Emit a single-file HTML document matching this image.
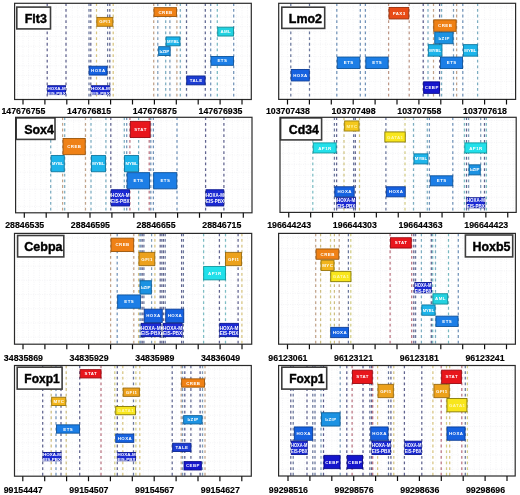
<!DOCTYPE html>
<html><head><meta charset="utf-8"><title>TF binding sites</title>
<style>
html,body{margin:0;padding:0;background:#fff;}
body{width:520px;height:495px;overflow:hidden;}
svg{display:block;}
svg text{font-family:"Liberation Sans", sans-serif;font-weight:bold;}
</style></head>
<body>
<svg width="520" height="495" viewBox="0 0 520 495">
<defs><filter id="soft" x="0" y="0" width="1" height="1"><feGaussianBlur stdDeviation="0.35"/></filter></defs>
<rect width="520" height="495" fill="#fff"/>
<g filter="url(#soft)">
<rect width="520" height="495" fill="#fff"/>
<path d="M17.52 3.3V99.5M23 3.3V99.5M28.48 3.3V99.5M33.95 3.3V99.5M39.43 3.3V99.5M44.9 3.3V99.5M50.38 3.3V99.5M55.85 3.3V99.5M61.33 3.3V99.5M66.8 3.3V99.5M72.28 3.3V99.5M77.75 3.3V99.5M83.22 3.3V99.5M88.7 3.3V99.5M94.17 3.3V99.5M99.65 3.3V99.5M105.12 3.3V99.5M110.6 3.3V99.5M116.07 3.3V99.5M121.55 3.3V99.5M127.02 3.3V99.5M132.5 3.3V99.5M137.97 3.3V99.5M143.45 3.3V99.5M148.92 3.3V99.5M154.4 3.3V99.5M159.87 3.3V99.5M165.35 3.3V99.5M170.82 3.3V99.5M176.3 3.3V99.5M181.77 3.3V99.5M187.25 3.3V99.5M192.72 3.3V99.5M198.2 3.3V99.5M203.67 3.3V99.5M209.15 3.3V99.5M214.62 3.3V99.5M220.1 3.3V99.5M225.57 3.3V99.5M231.05 3.3V99.5M236.52 3.3V99.5M242 3.3V99.5M247.47 3.3V99.5M14.6 7.2H251.3M14.6 16.96H251.3M14.6 26.72H251.3M14.6 36.48H251.3M14.6 46.24H251.3M14.6 56H251.3M14.6 65.76H251.3M14.6 75.52H251.3M14.6 85.28H251.3M14.6 95.04H251.3" stroke="#efeff2" stroke-width="0.7" stroke-dasharray="1 1.3" fill="none"/>
<line x1="47.2" y1="3.3" x2="47.2" y2="99.5" stroke="#60638f" stroke-width="1.25" stroke-dasharray="2.8 2.85"/>
<line x1="66" y1="3.3" x2="66" y2="99.5" stroke="#60638f" stroke-width="1.25" stroke-dasharray="2.8 2.85"/>
<line x1="89" y1="3.3" x2="89" y2="99.5" stroke="#6a779c" stroke-width="1.25" stroke-dasharray="2.8 2.85"/>
<line x1="90.8" y1="3.3" x2="90.8" y2="99.5" stroke="#60638f" stroke-width="1.25" stroke-dasharray="2.8 2.85"/>
<line x1="96.5" y1="3.3" x2="96.5" y2="99.5" stroke="#d7c481" stroke-width="1.25" stroke-dasharray="2.8 2.85"/>
<line x1="107.6" y1="3.3" x2="107.6" y2="99.5" stroke="#6a779c" stroke-width="1.25" stroke-dasharray="2.8 2.85"/>
<line x1="109.8" y1="3.3" x2="109.8" y2="99.5" stroke="#60638f" stroke-width="1.25" stroke-dasharray="2.8 2.85"/>
<line x1="113.2" y1="3.3" x2="113.2" y2="99.5" stroke="#d7c481" stroke-width="1.25" stroke-dasharray="2.8 2.85"/>
<line x1="153.7" y1="3.3" x2="153.7" y2="99.5" stroke="#c1a38a" stroke-width="1.25" stroke-dasharray="2.8 2.85"/>
<line x1="157.8" y1="3.3" x2="157.8" y2="99.5" stroke="#7e9cb9" stroke-width="1.25" stroke-dasharray="2.8 2.85"/>
<line x1="165.7" y1="3.3" x2="165.7" y2="99.5" stroke="#7cadc1" stroke-width="1.25" stroke-dasharray="2.8 2.85"/>
<line x1="169.9" y1="3.3" x2="169.9" y2="99.5" stroke="#7e9cb9" stroke-width="1.25" stroke-dasharray="2.8 2.85"/>
<line x1="176.9" y1="3.3" x2="176.9" y2="99.5" stroke="#c1a38a" stroke-width="1.25" stroke-dasharray="2.8 2.85"/>
<line x1="180.3" y1="3.3" x2="180.3" y2="99.5" stroke="#7cadc1" stroke-width="1.25" stroke-dasharray="2.8 2.85"/>
<line x1="186.5" y1="3.3" x2="186.5" y2="99.5" stroke="#606791" stroke-width="1.25" stroke-dasharray="2.8 2.85"/>
<line x1="205.3" y1="3.3" x2="205.3" y2="99.5" stroke="#606791" stroke-width="1.25" stroke-dasharray="2.8 2.85"/>
<line x1="210.7" y1="3.3" x2="210.7" y2="99.5" stroke="#7293b9" stroke-width="1.25" stroke-dasharray="2.8 2.85"/>
<line x1="217.3" y1="3.3" x2="217.3" y2="99.5" stroke="#78b8c1" stroke-width="1.25" stroke-dasharray="2.8 2.85"/>
<line x1="233.7" y1="3.3" x2="233.7" y2="99.5" stroke="#7293b9" stroke-width="1.25" stroke-dasharray="2.8 2.85"/>
<rect x="154.05" y="7.65" width="22.5" height="8.86" fill="#ef8115" stroke="#9c560c" stroke-width="0.9"/>
<text x="165.53" y="13.66" font-size="4.4" fill="#ffffff" text-anchor="middle" letter-spacing="0.45">CREB</text>
<rect x="96.85" y="17.41" width="16" height="8.86" fill="#eca11d" stroke="#9a6a10" stroke-width="0.9"/>
<text x="105.07" y="23.42" font-size="4.4" fill="#ffffff" text-anchor="middle" letter-spacing="0.45">GFI1</text>
<rect x="217.75" y="27.17" width="15.7" height="8.86" fill="#24d2e0" stroke="#128e98" stroke-width="0.9"/>
<text x="225.83" y="33.18" font-size="4.4" fill="#ffffff" text-anchor="middle" letter-spacing="0.45">AML</text>
<rect x="166.15" y="36.93" width="13.8" height="8.86" fill="#1db4ea" stroke="#0f78a0" stroke-width="0.9"/>
<text x="173.05" y="42.94" font-size="4.4" fill="#ffffff" text-anchor="middle" textLength="12.1" lengthAdjust="spacingAndGlyphs">MYBL</text>
<rect x="158.65" y="46.69" width="11.5" height="8.86" fill="#1c92e2" stroke="#0f609a" stroke-width="0.9"/>
<text x="164.4" y="52.7" font-size="4.4" fill="#ffffff" text-anchor="middle" textLength="9.8" lengthAdjust="spacingAndGlyphs">bZIP</text>
<rect x="210.95" y="56.45" width="22.5" height="8.86" fill="#1a7ee6" stroke="#0f549c" stroke-width="0.9"/>
<text x="222.42" y="62.46" font-size="4.4" fill="#ffffff" text-anchor="middle" letter-spacing="0.45">ETS</text>
<rect x="89.15" y="66.21" width="17.9" height="8.86" fill="#1662e0" stroke="#0c3e98" stroke-width="0.9"/>
<text x="98.32" y="72.22" font-size="4.4" fill="#ffffff" text-anchor="middle" letter-spacing="0.45">HOXA</text>
<rect x="186.75" y="75.97" width="18.3" height="8.86" fill="#1a3cd2" stroke="#0c2690" stroke-width="0.9"/>
<text x="196.12" y="81.98" font-size="4.4" fill="#ffffff" text-anchor="middle" letter-spacing="0.45">TALE</text>
<rect x="47.65" y="85.73" width="17.9" height="8.86" fill="#1a2ad2" stroke="#0c1890" stroke-width="0.9"/>
<text x="56.6" y="89.76" font-size="4.24" fill="#ffffff" text-anchor="middle" textLength="18.2" lengthAdjust="spacingAndGlyphs">HOXA-M</text>
<text x="56.6" y="94.91" font-size="4.24" fill="#ffffff" text-anchor="middle" textLength="18.2" lengthAdjust="spacingAndGlyphs">EIS-PBX</text>
<rect x="91.25" y="85.73" width="18.5" height="8.86" fill="#1a2ad2" stroke="#0c1890" stroke-width="0.9"/>
<text x="100.5" y="89.76" font-size="4.24" fill="#ffffff" text-anchor="middle" textLength="18.8" lengthAdjust="spacingAndGlyphs">HOXA-M</text>
<text x="100.5" y="94.91" font-size="4.24" fill="#ffffff" text-anchor="middle" textLength="18.8" lengthAdjust="spacingAndGlyphs">EIS-PBX</text>
<rect x="16.8" y="7.1" width="33.7" height="21.8" fill="#fff" stroke="#3c3c3c" stroke-width="1.6"/>
<text x="46.8" y="22.8" font-size="12.4" fill="#000" stroke="#000" stroke-width="0.4" text-anchor="end">Flt3</text>
<rect x="14.6" y="3.3" width="236.7" height="96.2" fill="none" stroke="#2b2b2b" stroke-width="1.2"/>
<path d="M23 99.5V104.5M44.9 99.5V104.5M66.8 99.5V104.5M88.7 99.5V104.5M110.6 99.5V104.5M132.5 99.5V104.5M154.4 99.5V104.5M176.3 99.5V104.5M198.2 99.5V104.5M220.1 99.5V104.5M242 99.5V104.5" stroke="#111" stroke-width="1.2"/>
<text transform="translate(23.4 114.2) scale(1 0.96)" font-size="8.8" fill="#000" stroke="#000" stroke-width="0.15" text-anchor="middle">147676755</text>
<text transform="translate(89.1 114.2) scale(1 0.96)" font-size="8.8" fill="#000" stroke="#000" stroke-width="0.15" text-anchor="middle">147676815</text>
<text transform="translate(154.8 114.2) scale(1 0.96)" font-size="8.8" fill="#000" stroke="#000" stroke-width="0.15" text-anchor="middle">147676875</text>
<text transform="translate(220.5 114.2) scale(1 0.96)" font-size="8.8" fill="#000" stroke="#000" stroke-width="0.15" text-anchor="middle">147676935</text>
<path d="M282.03 3.3V99.4M287.5 3.3V99.4M292.98 3.3V99.4M298.45 3.3V99.4M303.93 3.3V99.4M309.4 3.3V99.4M314.88 3.3V99.4M320.35 3.3V99.4M325.83 3.3V99.4M331.3 3.3V99.4M336.78 3.3V99.4M342.25 3.3V99.4M347.73 3.3V99.4M353.2 3.3V99.4M358.68 3.3V99.4M364.15 3.3V99.4M369.63 3.3V99.4M375.1 3.3V99.4M380.58 3.3V99.4M386.05 3.3V99.4M391.53 3.3V99.4M397 3.3V99.4M402.48 3.3V99.4M407.95 3.3V99.4M413.43 3.3V99.4M418.9 3.3V99.4M424.38 3.3V99.4M429.85 3.3V99.4M435.33 3.3V99.4M440.8 3.3V99.4M446.28 3.3V99.4M451.75 3.3V99.4M457.23 3.3V99.4M462.7 3.3V99.4M468.18 3.3V99.4M473.65 3.3V99.4M479.13 3.3V99.4M484.6 3.3V99.4M490.08 3.3V99.4M495.55 3.3V99.4M501.03 3.3V99.4M506.5 3.3V99.4M511.98 3.3V99.4M278.7 7H515.6M278.7 19.4H515.6M278.7 31.8H515.6M278.7 44.2H515.6M278.7 56.6H515.6M278.7 69H515.6M278.7 81.4H515.6M278.7 93.8H515.6" stroke="#efeff2" stroke-width="0.7" stroke-dasharray="1 1.3" fill="none"/>
<line x1="290.8" y1="3.3" x2="290.8" y2="99.4" stroke="#6a779c" stroke-width="1.25" stroke-dasharray="2.8 2.85"/>
<line x1="309.5" y1="3.3" x2="309.5" y2="99.4" stroke="#6a779c" stroke-width="1.25" stroke-dasharray="2.8 2.85"/>
<line x1="336.8" y1="3.3" x2="336.8" y2="99.4" stroke="#7293b9" stroke-width="1.25" stroke-dasharray="2.8 2.85"/>
<line x1="360.3" y1="3.3" x2="360.3" y2="99.4" stroke="#7293b9" stroke-width="1.25" stroke-dasharray="2.8 2.85"/>
<line x1="365.4" y1="3.3" x2="365.4" y2="99.4" stroke="#7293b9" stroke-width="1.25" stroke-dasharray="2.8 2.85"/>
<line x1="388.6" y1="3.3" x2="388.6" y2="99.4" stroke="#bd9888" stroke-width="1.25" stroke-dasharray="2.8 2.85"/>
<line x1="409.2" y1="3.3" x2="409.2" y2="99.4" stroke="#bd9888" stroke-width="1.25" stroke-dasharray="2.8 2.85"/>
<line x1="423.2" y1="3.3" x2="423.2" y2="99.4" stroke="#5a5c8d" stroke-width="1.25" stroke-dasharray="2.8 2.85"/>
<line x1="428" y1="3.3" x2="428" y2="99.4" stroke="#7cadc1" stroke-width="1.25" stroke-dasharray="2.8 2.85"/>
<line x1="433.5" y1="3.3" x2="433.5" y2="99.4" stroke="#c1a38a" stroke-width="1.25" stroke-dasharray="2.8 2.85"/>
<line x1="439.6" y1="3.3" x2="439.6" y2="99.4" stroke="#5a5c8d" stroke-width="1.25" stroke-dasharray="2.8 2.85"/>
<line x1="441.6" y1="3.3" x2="441.6" y2="99.4" stroke="#7cadc1" stroke-width="1.25" stroke-dasharray="2.8 2.85"/>
<line x1="453.5" y1="3.3" x2="453.5" y2="99.4" stroke="#7e9cb9" stroke-width="1.25" stroke-dasharray="2.8 2.85"/>
<line x1="456.6" y1="3.3" x2="456.6" y2="99.4" stroke="#c1a38a" stroke-width="1.25" stroke-dasharray="2.8 2.85"/>
<line x1="462.8" y1="3.3" x2="462.8" y2="99.4" stroke="#7293b9" stroke-width="1.25" stroke-dasharray="2.8 2.85"/>
<line x1="477.6" y1="3.3" x2="477.6" y2="99.4" stroke="#7cadc1" stroke-width="1.25" stroke-dasharray="2.8 2.85"/>
<rect x="389.05" y="7.45" width="19.7" height="11.5" fill="#e84c14" stroke="#9a300a" stroke-width="0.9"/>
<text x="399.12" y="14.78" font-size="4.4" fill="#ffffff" text-anchor="middle" letter-spacing="0.45">PAX3</text>
<rect x="433.75" y="19.85" width="22.4" height="11.5" fill="#ef8115" stroke="#9c560c" stroke-width="0.9"/>
<text x="445.18" y="27.18" font-size="4.4" fill="#ffffff" text-anchor="middle" letter-spacing="0.45">CREB</text>
<rect x="434.75" y="32.25" width="18.3" height="11.5" fill="#1c92e2" stroke="#0f609a" stroke-width="0.9"/>
<text x="444.12" y="39.58" font-size="4.4" fill="#ffffff" text-anchor="middle" letter-spacing="0.45">bZIP</text>
<rect x="428.35" y="44.65" width="13.6" height="11.5" fill="#1db4ea" stroke="#0f78a0" stroke-width="0.9"/>
<text x="435.15" y="51.98" font-size="4.4" fill="#ffffff" text-anchor="middle" textLength="11.9" lengthAdjust="spacingAndGlyphs">MYBL</text>
<rect x="463.45" y="44.65" width="13.9" height="11.5" fill="#1db4ea" stroke="#0f78a0" stroke-width="0.9"/>
<text x="470.4" y="51.98" font-size="4.4" fill="#ffffff" text-anchor="middle" textLength="12.2" lengthAdjust="spacingAndGlyphs">MYBL</text>
<rect x="337.25" y="57.05" width="22.6" height="11.5" fill="#1a7ee6" stroke="#0f549c" stroke-width="0.9"/>
<text x="348.78" y="64.38" font-size="4.4" fill="#ffffff" text-anchor="middle" letter-spacing="0.45">ETS</text>
<rect x="365.85" y="57.05" width="22.3" height="11.5" fill="#1a7ee6" stroke="#0f549c" stroke-width="0.9"/>
<text x="377.23" y="64.38" font-size="4.4" fill="#ffffff" text-anchor="middle" letter-spacing="0.45">ETS</text>
<rect x="440.45" y="57.05" width="22.1" height="11.5" fill="#1a7ee6" stroke="#0f549c" stroke-width="0.9"/>
<text x="451.73" y="64.38" font-size="4.4" fill="#ffffff" text-anchor="middle" letter-spacing="0.45">ETS</text>
<rect x="291.25" y="69.45" width="18" height="11.5" fill="#1662e0" stroke="#0c3e98" stroke-width="0.9"/>
<text x="300.48" y="76.78" font-size="4.4" fill="#ffffff" text-anchor="middle" letter-spacing="0.45">HOXA</text>
<rect x="423.65" y="81.85" width="15.9" height="11.5" fill="#1414cc" stroke="#08088c" stroke-width="0.9"/>
<text x="431.83" y="89.18" font-size="4.4" fill="#ffffff" text-anchor="middle" letter-spacing="0.45">CEBP</text>
<rect x="281.8" y="7.2" width="42.9" height="21.2" fill="#fff" stroke="#3c3c3c" stroke-width="1.6"/>
<text x="322" y="22.7" font-size="12.45" fill="#000" stroke="#000" stroke-width="0.4" text-anchor="end">Lmo2</text>
<rect x="278.7" y="3.3" width="236.9" height="96.1" fill="none" stroke="#2b2b2b" stroke-width="1.2"/>
<path d="M287.5 99.4V104.4M309.4 99.4V104.4M331.3 99.4V104.4M353.2 99.4V104.4M375.1 99.4V104.4M397 99.4V104.4M418.9 99.4V104.4M440.8 99.4V104.4M462.7 99.4V104.4M484.6 99.4V104.4M506.5 99.4V104.4" stroke="#111" stroke-width="1.2"/>
<text transform="translate(287.9 114.2) scale(1 0.96)" font-size="8.8" fill="#000" stroke="#000" stroke-width="0.15" text-anchor="middle">103707438</text>
<text transform="translate(353.6 114.2) scale(1 0.96)" font-size="8.8" fill="#000" stroke="#000" stroke-width="0.15" text-anchor="middle">103707498</text>
<text transform="translate(419.3 114.2) scale(1 0.96)" font-size="8.8" fill="#000" stroke="#000" stroke-width="0.15" text-anchor="middle">103707558</text>
<text transform="translate(485 114.2) scale(1 0.96)" font-size="8.8" fill="#000" stroke="#000" stroke-width="0.15" text-anchor="middle">103707618</text>
<path d="M18.83 117.3V212.8M24.3 117.3V212.8M29.78 117.3V212.8M35.25 117.3V212.8M40.73 117.3V212.8M46.2 117.3V212.8M51.68 117.3V212.8M57.15 117.3V212.8M62.63 117.3V212.8M68.1 117.3V212.8M73.58 117.3V212.8M79.05 117.3V212.8M84.52 117.3V212.8M90 117.3V212.8M95.47 117.3V212.8M100.95 117.3V212.8M106.42 117.3V212.8M111.9 117.3V212.8M117.37 117.3V212.8M122.85 117.3V212.8M128.32 117.3V212.8M133.8 117.3V212.8M139.27 117.3V212.8M144.75 117.3V212.8M150.22 117.3V212.8M155.7 117.3V212.8M161.17 117.3V212.8M166.65 117.3V212.8M172.12 117.3V212.8M177.6 117.3V212.8M183.07 117.3V212.8M188.55 117.3V212.8M194.02 117.3V212.8M199.5 117.3V212.8M204.97 117.3V212.8M210.45 117.3V212.8M215.92 117.3V212.8M221.4 117.3V212.8M226.87 117.3V212.8M232.35 117.3V212.8M237.82 117.3V212.8M243.3 117.3V212.8M248.77 117.3V212.8M15.6 120.9H252M15.6 138H252M15.6 155.1H252M15.6 172.2H252M15.6 189.3H252M15.6 206.4H252" stroke="#efeff2" stroke-width="0.7" stroke-dasharray="1 1.3" fill="none"/>
<line x1="50.7" y1="117.3" x2="50.7" y2="212.8" stroke="#7cadc1" stroke-width="1.25" stroke-dasharray="2.8 2.85"/>
<line x1="62.6" y1="117.3" x2="62.6" y2="212.8" stroke="#c1a38a" stroke-width="1.25" stroke-dasharray="2.8 2.85"/>
<line x1="64.7" y1="117.3" x2="64.7" y2="212.8" stroke="#7cadc1" stroke-width="1.25" stroke-dasharray="2.8 2.85"/>
<line x1="85.5" y1="117.3" x2="85.5" y2="212.8" stroke="#c1a38a" stroke-width="1.25" stroke-dasharray="2.8 2.85"/>
<line x1="91" y1="117.3" x2="91" y2="212.8" stroke="#7cadc1" stroke-width="1.25" stroke-dasharray="2.8 2.85"/>
<line x1="105.9" y1="117.3" x2="105.9" y2="212.8" stroke="#7cadc1" stroke-width="1.25" stroke-dasharray="2.8 2.85"/>
<line x1="110.8" y1="117.3" x2="110.8" y2="212.8" stroke="#60638f" stroke-width="1.25" stroke-dasharray="2.8 2.85"/>
<line x1="124.3" y1="117.3" x2="124.3" y2="212.8" stroke="#7cadc1" stroke-width="1.25" stroke-dasharray="2.8 2.85"/>
<line x1="126.7" y1="117.3" x2="126.7" y2="212.8" stroke="#7293b9" stroke-width="1.25" stroke-dasharray="2.8 2.85"/>
<line x1="129.9" y1="117.3" x2="129.9" y2="212.8" stroke="#b97381" stroke-width="1.25" stroke-dasharray="2.8 2.85"/>
<line x1="138.6" y1="117.3" x2="138.6" y2="212.8" stroke="#7cadc1" stroke-width="1.25" stroke-dasharray="2.8 2.85"/>
<line x1="149.2" y1="117.3" x2="149.2" y2="212.8" stroke="#b97381" stroke-width="1.25" stroke-dasharray="2.8 2.85"/>
<line x1="150.8" y1="117.3" x2="150.8" y2="212.8" stroke="#7293b9" stroke-width="1.25" stroke-dasharray="2.8 2.85"/>
<line x1="153.4" y1="117.3" x2="153.4" y2="212.8" stroke="#7293b9" stroke-width="1.25" stroke-dasharray="2.8 2.85"/>
<line x1="177" y1="117.3" x2="177" y2="212.8" stroke="#7293b9" stroke-width="1.25" stroke-dasharray="2.8 2.85"/>
<line x1="205.6" y1="117.3" x2="205.6" y2="212.8" stroke="#60638f" stroke-width="1.25" stroke-dasharray="2.8 2.85"/>
<line x1="223.9" y1="117.3" x2="223.9" y2="212.8" stroke="#60638f" stroke-width="1.25" stroke-dasharray="2.8 2.85"/>
<rect x="130.35" y="121.35" width="19.8" height="16.2" fill="#e8141e" stroke="#9a0c12" stroke-width="0.9"/>
<text x="140.47" y="131.03" font-size="4.4" fill="#ffffff" text-anchor="middle" letter-spacing="0.45">STAT</text>
<rect x="63.05" y="138.45" width="22.2" height="16.2" fill="#ef8115" stroke="#9c560c" stroke-width="0.9"/>
<text x="74.38" y="148.13" font-size="4.4" fill="#ffffff" text-anchor="middle" letter-spacing="0.45">CREB</text>
<rect x="51.15" y="155.55" width="13.1" height="16.2" fill="#1db4ea" stroke="#0f78a0" stroke-width="0.9"/>
<text x="57.7" y="165.23" font-size="4.4" fill="#ffffff" text-anchor="middle" textLength="11.4" lengthAdjust="spacingAndGlyphs">MYBL</text>
<rect x="91.45" y="155.55" width="14" height="16.2" fill="#1db4ea" stroke="#0f78a0" stroke-width="0.9"/>
<text x="98.45" y="165.23" font-size="4.4" fill="#ffffff" text-anchor="middle" textLength="12.3" lengthAdjust="spacingAndGlyphs">MYBL</text>
<rect x="124.55" y="155.55" width="14" height="16.2" fill="#1db4ea" stroke="#0f78a0" stroke-width="0.9"/>
<text x="131.55" y="165.23" font-size="4.4" fill="#ffffff" text-anchor="middle" textLength="12.3" lengthAdjust="spacingAndGlyphs">MYBL</text>
<rect x="127.15" y="172.65" width="22.4" height="16.2" fill="#1a7ee6" stroke="#0f549c" stroke-width="0.9"/>
<text x="138.57" y="182.33" font-size="4.4" fill="#ffffff" text-anchor="middle" letter-spacing="0.45">ETS</text>
<rect x="153.65" y="172.65" width="23.1" height="16.2" fill="#1a7ee6" stroke="#0f549c" stroke-width="0.9"/>
<text x="165.42" y="182.33" font-size="4.4" fill="#ffffff" text-anchor="middle" letter-spacing="0.45">ETS</text>
<rect x="111.25" y="189.75" width="18.2" height="16.2" fill="#1a2ad2" stroke="#0c1890" stroke-width="0.9"/>
<text x="120.35" y="197.45" font-size="4.6" fill="#ffffff" text-anchor="middle" textLength="18.5" lengthAdjust="spacingAndGlyphs">HOXA-M</text>
<text x="120.35" y="203" font-size="4.6" fill="#ffffff" text-anchor="middle" textLength="18.5" lengthAdjust="spacingAndGlyphs">EIS-PBX</text>
<rect x="206.05" y="189.75" width="17.7" height="16.2" fill="#1a2ad2" stroke="#0c1890" stroke-width="0.9"/>
<text x="214.9" y="197.45" font-size="4.6" fill="#ffffff" text-anchor="middle" textLength="18" lengthAdjust="spacingAndGlyphs">HOXA-M</text>
<text x="214.9" y="203" font-size="4.6" fill="#ffffff" text-anchor="middle" textLength="18" lengthAdjust="spacingAndGlyphs">EIS-PBX</text>
<rect x="16.2" y="117.9" width="38.8" height="21.5" fill="#fff" stroke="#3c3c3c" stroke-width="1.6"/>
<text x="53.9" y="133.7" font-size="12.45" fill="#000" stroke="#000" stroke-width="0.4" text-anchor="end">Sox4</text>
<rect x="15.6" y="117.3" width="236.4" height="95.5" fill="none" stroke="#2b2b2b" stroke-width="1.2"/>
<path d="M24.3 212.8V217.8M46.2 212.8V217.8M68.1 212.8V217.8M90 212.8V217.8M111.9 212.8V217.8M133.8 212.8V217.8M155.7 212.8V217.8M177.6 212.8V217.8M199.5 212.8V217.8M221.4 212.8V217.8M243.3 212.8V217.8" stroke="#111" stroke-width="1.2"/>
<text transform="translate(24.7 228) scale(1 0.96)" font-size="8.8" fill="#000" stroke="#000" stroke-width="0.15" text-anchor="middle">28846535</text>
<text transform="translate(90.4 228) scale(1 0.96)" font-size="8.8" fill="#000" stroke="#000" stroke-width="0.15" text-anchor="middle">28846595</text>
<text transform="translate(156.1 228) scale(1 0.96)" font-size="8.8" fill="#000" stroke="#000" stroke-width="0.15" text-anchor="middle">28846655</text>
<text transform="translate(221.8 228) scale(1 0.96)" font-size="8.8" fill="#000" stroke="#000" stroke-width="0.15" text-anchor="middle">28846715</text>
<path d="M283.28 117.3V212.4M288.75 117.3V212.4M294.23 117.3V212.4M299.7 117.3V212.4M305.18 117.3V212.4M310.65 117.3V212.4M316.13 117.3V212.4M321.6 117.3V212.4M327.08 117.3V212.4M332.55 117.3V212.4M338.03 117.3V212.4M343.5 117.3V212.4M348.98 117.3V212.4M354.45 117.3V212.4M359.93 117.3V212.4M365.4 117.3V212.4M370.88 117.3V212.4M376.35 117.3V212.4M381.83 117.3V212.4M387.3 117.3V212.4M392.78 117.3V212.4M398.25 117.3V212.4M403.73 117.3V212.4M409.2 117.3V212.4M414.68 117.3V212.4M420.15 117.3V212.4M425.63 117.3V212.4M431.1 117.3V212.4M436.58 117.3V212.4M442.05 117.3V212.4M447.53 117.3V212.4M453 117.3V212.4M458.48 117.3V212.4M463.95 117.3V212.4M469.43 117.3V212.4M474.9 117.3V212.4M480.38 117.3V212.4M485.85 117.3V212.4M491.33 117.3V212.4M496.8 117.3V212.4M502.28 117.3V212.4M507.75 117.3V212.4M513.23 117.3V212.4M280 120.5H516.2M280 131.47H516.2M280 142.44H516.2M280 153.41H516.2M280 164.38H516.2M280 175.35H516.2M280 186.32H516.2M280 197.29H516.2M280 208.26H516.2" stroke="#efeff2" stroke-width="0.7" stroke-dasharray="1 1.3" fill="none"/>
<line x1="312.8" y1="117.3" x2="312.8" y2="212.4" stroke="#7ebdc4" stroke-width="1.25" stroke-dasharray="2.8 2.85"/>
<line x1="334.4" y1="117.3" x2="334.4" y2="212.4" stroke="#6a779c" stroke-width="1.25" stroke-dasharray="2.8 2.85"/>
<line x1="336.6" y1="117.3" x2="336.6" y2="212.4" stroke="#60638f" stroke-width="1.25" stroke-dasharray="2.8 2.85"/>
<line x1="344" y1="117.3" x2="344" y2="212.4" stroke="#d0c483" stroke-width="1.25" stroke-dasharray="2.8 2.85"/>
<line x1="353.6" y1="117.3" x2="353.6" y2="212.4" stroke="#6a779c" stroke-width="1.25" stroke-dasharray="2.8 2.85"/>
<line x1="355.3" y1="117.3" x2="355.3" y2="212.4" stroke="#60638f" stroke-width="1.25" stroke-dasharray="2.8 2.85"/>
<line x1="359.5" y1="117.3" x2="359.5" y2="212.4" stroke="#d0c483" stroke-width="1.25" stroke-dasharray="2.8 2.85"/>
<line x1="385.9" y1="117.3" x2="385.9" y2="212.4" stroke="#6a779c" stroke-width="1.25" stroke-dasharray="2.8 2.85"/>
<line x1="405" y1="117.3" x2="405" y2="212.4" stroke="#d3cd86" stroke-width="1.25" stroke-dasharray="2.8 2.85"/>
<line x1="413.5" y1="117.3" x2="413.5" y2="212.4" stroke="#7cadc1" stroke-width="1.25" stroke-dasharray="2.8 2.85"/>
<line x1="427.3" y1="117.3" x2="427.3" y2="212.4" stroke="#7cadc1" stroke-width="1.25" stroke-dasharray="2.8 2.85"/>
<line x1="429.4" y1="117.3" x2="429.4" y2="212.4" stroke="#7293b9" stroke-width="1.25" stroke-dasharray="2.8 2.85"/>
<line x1="452.8" y1="117.3" x2="452.8" y2="212.4" stroke="#7293b9" stroke-width="1.25" stroke-dasharray="2.8 2.85"/>
<line x1="464.4" y1="117.3" x2="464.4" y2="212.4" stroke="#7ebdc4" stroke-width="1.25" stroke-dasharray="2.8 2.85"/>
<line x1="466.5" y1="117.3" x2="466.5" y2="212.4" stroke="#60638f" stroke-width="1.25" stroke-dasharray="2.8 2.85"/>
<line x1="468.6" y1="117.3" x2="468.6" y2="212.4" stroke="#7e9cb9" stroke-width="1.25" stroke-dasharray="2.8 2.85"/>
<line x1="480.7" y1="117.3" x2="480.7" y2="212.4" stroke="#7e9cb9" stroke-width="1.25" stroke-dasharray="2.8 2.85"/>
<line x1="484.5" y1="117.3" x2="484.5" y2="212.4" stroke="#60638f" stroke-width="1.25" stroke-dasharray="2.8 2.85"/>
<line x1="486.4" y1="117.3" x2="486.4" y2="212.4" stroke="#7ebdc4" stroke-width="1.25" stroke-dasharray="2.8 2.85"/>
<rect x="344.65" y="120.95" width="14.3" height="10.07" fill="#f4c81e" stroke="#9c800c" stroke-width="0.9"/>
<text x="352.02" y="127.57" font-size="4.4" fill="#fff7b0" text-anchor="middle" letter-spacing="0.45">MYC</text>
<rect x="384.85" y="131.92" width="20.4" height="10.07" fill="#f8e61e" stroke="#857808" stroke-width="0.9"/>
<text x="395.27" y="138.54" font-size="4.4" fill="#fff7b0" text-anchor="middle" letter-spacing="0.45">GATA1</text>
<rect x="313.25" y="142.89" width="22.9" height="10.07" fill="#22e0ea" stroke="#12989e" stroke-width="0.9"/>
<text x="324.93" y="149.51" font-size="4.4" fill="#ffffff" text-anchor="middle" letter-spacing="0.45">AP1R</text>
<rect x="464.85" y="142.89" width="21.8" height="10.07" fill="#22e0ea" stroke="#12989e" stroke-width="0.9"/>
<text x="475.98" y="149.51" font-size="4.4" fill="#ffffff" text-anchor="middle" letter-spacing="0.45">AP1R</text>
<rect x="413.95" y="153.86" width="14" height="10.07" fill="#1db4ea" stroke="#0f78a0" stroke-width="0.9"/>
<text x="420.95" y="160.48" font-size="4.4" fill="#ffffff" text-anchor="middle" textLength="12.3" lengthAdjust="spacingAndGlyphs">MYBL</text>
<rect x="469.05" y="164.83" width="11.2" height="10.07" fill="#1c92e2" stroke="#0f609a" stroke-width="0.9"/>
<text x="474.65" y="171.45" font-size="4.4" fill="#ffffff" text-anchor="middle" textLength="9.5" lengthAdjust="spacingAndGlyphs">bZIP</text>
<rect x="430.35" y="175.8" width="22.4" height="10.07" fill="#1a7ee6" stroke="#0f549c" stroke-width="0.9"/>
<text x="441.77" y="182.42" font-size="4.4" fill="#ffffff" text-anchor="middle" letter-spacing="0.45">ETS</text>
<rect x="334.85" y="186.77" width="19.3" height="10.07" fill="#1662e0" stroke="#0c3e98" stroke-width="0.9"/>
<text x="344.73" y="193.39" font-size="4.4" fill="#ffffff" text-anchor="middle" letter-spacing="0.45">HOXA</text>
<rect x="386.35" y="186.77" width="18.9" height="10.07" fill="#1662e0" stroke="#0c3e98" stroke-width="0.9"/>
<text x="396.02" y="193.39" font-size="4.4" fill="#ffffff" text-anchor="middle" letter-spacing="0.45">HOXA</text>
<rect x="337.05" y="197.74" width="18.2" height="10.07" fill="#1a2ad2" stroke="#0c1890" stroke-width="0.9"/>
<text x="346.15" y="202.38" font-size="4.6" fill="#ffffff" text-anchor="middle" textLength="18.5" lengthAdjust="spacingAndGlyphs">HOXA-M</text>
<text x="346.15" y="207.93" font-size="4.6" fill="#ffffff" text-anchor="middle" textLength="18.5" lengthAdjust="spacingAndGlyphs">EIS-PBX</text>
<rect x="466.95" y="197.74" width="17.8" height="10.07" fill="#1a2ad2" stroke="#0c1890" stroke-width="0.9"/>
<text x="475.85" y="202.38" font-size="4.6" fill="#ffffff" text-anchor="middle" textLength="18.1" lengthAdjust="spacingAndGlyphs">HOXA-M</text>
<text x="475.85" y="207.93" font-size="4.6" fill="#ffffff" text-anchor="middle" textLength="18.1" lengthAdjust="spacingAndGlyphs">EIS-PBX</text>
<rect x="280.6" y="117.9" width="41" height="22" fill="#fff" stroke="#3c3c3c" stroke-width="1.6"/>
<text x="318.9" y="133.9" font-size="12.3" fill="#000" stroke="#000" stroke-width="0.4" text-anchor="end">Cd34</text>
<rect x="280" y="117.3" width="236.2" height="95.1" fill="none" stroke="#2b2b2b" stroke-width="1.2"/>
<path d="M288.75 212.4V217.4M310.65 212.4V217.4M332.55 212.4V217.4M354.45 212.4V217.4M376.35 212.4V217.4M398.25 212.4V217.4M420.15 212.4V217.4M442.05 212.4V217.4M463.95 212.4V217.4M485.85 212.4V217.4M507.75 212.4V217.4" stroke="#111" stroke-width="1.2"/>
<text transform="translate(289.15 228) scale(1 0.96)" font-size="8.8" fill="#000" stroke="#000" stroke-width="0.15" text-anchor="middle">196644243</text>
<text transform="translate(354.85 228) scale(1 0.96)" font-size="8.8" fill="#000" stroke="#000" stroke-width="0.15" text-anchor="middle">196644303</text>
<text transform="translate(420.55 228) scale(1 0.96)" font-size="8.8" fill="#000" stroke="#000" stroke-width="0.15" text-anchor="middle">196644363</text>
<text transform="translate(486.25 228) scale(1 0.96)" font-size="8.8" fill="#000" stroke="#000" stroke-width="0.15" text-anchor="middle">196644423</text>
<path d="M17.52 233.4V344.2M23 233.4V344.2M28.48 233.4V344.2M33.95 233.4V344.2M39.43 233.4V344.2M44.9 233.4V344.2M50.38 233.4V344.2M55.85 233.4V344.2M61.33 233.4V344.2M66.8 233.4V344.2M72.28 233.4V344.2M77.75 233.4V344.2M83.22 233.4V344.2M88.7 233.4V344.2M94.17 233.4V344.2M99.65 233.4V344.2M105.12 233.4V344.2M110.6 233.4V344.2M116.07 233.4V344.2M121.55 233.4V344.2M127.02 233.4V344.2M132.5 233.4V344.2M137.97 233.4V344.2M143.45 233.4V344.2M148.92 233.4V344.2M154.4 233.4V344.2M159.87 233.4V344.2M165.35 233.4V344.2M170.82 233.4V344.2M176.3 233.4V344.2M181.77 233.4V344.2M187.25 233.4V344.2M192.72 233.4V344.2M198.2 233.4V344.2M203.67 233.4V344.2M209.15 233.4V344.2M214.62 233.4V344.2M220.1 233.4V344.2M225.57 233.4V344.2M231.05 233.4V344.2M236.52 233.4V344.2M242 233.4V344.2M247.47 233.4V344.2M14.5 237.7H251.7M14.5 251.9H251.7M14.5 266.1H251.7M14.5 280.3H251.7M14.5 294.5H251.7M14.5 308.7H251.7M14.5 322.9H251.7M14.5 337.1H251.7" stroke="#efeff2" stroke-width="0.7" stroke-dasharray="1 1.3" fill="none"/>
<line x1="110.6" y1="233.4" x2="110.6" y2="344.2" stroke="#c1a38a" stroke-width="1.25" stroke-dasharray="2.8 2.85"/>
<line x1="117.2" y1="233.4" x2="117.2" y2="344.2" stroke="#7293b9" stroke-width="1.25" stroke-dasharray="2.8 2.85"/>
<line x1="133.8" y1="233.4" x2="133.8" y2="344.2" stroke="#c1a38a" stroke-width="1.25" stroke-dasharray="2.8 2.85"/>
<line x1="138.6" y1="233.4" x2="138.6" y2="344.2" stroke="#d7c481" stroke-width="1.25" stroke-dasharray="2.8 2.85"/>
<line x1="139.8" y1="233.4" x2="139.8" y2="344.2" stroke="#7e9cb9" stroke-width="1.25" stroke-dasharray="2.8 2.85"/>
<line x1="140.8" y1="233.4" x2="140.8" y2="344.2" stroke="#7293b9" stroke-width="1.25" stroke-dasharray="2.8 2.85"/>
<line x1="142.2" y1="233.4" x2="142.2" y2="344.2" stroke="#60638f" stroke-width="1.25" stroke-dasharray="2.8 2.85"/>
<line x1="143.9" y1="233.4" x2="143.9" y2="344.2" stroke="#6a779c" stroke-width="1.25" stroke-dasharray="2.8 2.85"/>
<line x1="151.6" y1="233.4" x2="151.6" y2="344.2" stroke="#7e9cb9" stroke-width="1.25" stroke-dasharray="2.8 2.85"/>
<line x1="154.9" y1="233.4" x2="154.9" y2="344.2" stroke="#d7c481" stroke-width="1.25" stroke-dasharray="2.8 2.85"/>
<line x1="160.2" y1="233.4" x2="160.2" y2="344.2" stroke="#60638f" stroke-width="1.25" stroke-dasharray="2.8 2.85"/>
<line x1="161.8" y1="233.4" x2="161.8" y2="344.2" stroke="#6a779c" stroke-width="1.25" stroke-dasharray="2.8 2.85"/>
<line x1="163.4" y1="233.4" x2="163.4" y2="344.2" stroke="#60638f" stroke-width="1.25" stroke-dasharray="2.8 2.85"/>
<line x1="165.2" y1="233.4" x2="165.2" y2="344.2" stroke="#6a779c" stroke-width="1.25" stroke-dasharray="2.8 2.85"/>
<line x1="181.6" y1="233.4" x2="181.6" y2="344.2" stroke="#60638f" stroke-width="1.25" stroke-dasharray="2.8 2.85"/>
<line x1="183.4" y1="233.4" x2="183.4" y2="344.2" stroke="#6a779c" stroke-width="1.25" stroke-dasharray="2.8 2.85"/>
<line x1="203.6" y1="233.4" x2="203.6" y2="344.2" stroke="#7ebdc4" stroke-width="1.25" stroke-dasharray="2.8 2.85"/>
<line x1="219.4" y1="233.4" x2="219.4" y2="344.2" stroke="#60638f" stroke-width="1.25" stroke-dasharray="2.8 2.85"/>
<line x1="225.5" y1="233.4" x2="225.5" y2="344.2" stroke="#7ebdc4" stroke-width="1.25" stroke-dasharray="2.8 2.85"/>
<line x1="238.1" y1="233.4" x2="238.1" y2="344.2" stroke="#60638f" stroke-width="1.25" stroke-dasharray="2.8 2.85"/>
<line x1="241.9" y1="233.4" x2="241.9" y2="344.2" stroke="#d7c481" stroke-width="1.25" stroke-dasharray="2.8 2.85"/>
<rect x="111.05" y="238.15" width="22.6" height="13.3" fill="#ef8115" stroke="#9c560c" stroke-width="0.9"/>
<text x="122.57" y="246.38" font-size="4.4" fill="#ffffff" text-anchor="middle" letter-spacing="0.45">CREB</text>
<rect x="138.95" y="252.35" width="15.8" height="13.3" fill="#eca11d" stroke="#9a6a10" stroke-width="0.9"/>
<text x="147.07" y="260.58" font-size="4.4" fill="#ffffff" text-anchor="middle" letter-spacing="0.45">GFI1</text>
<rect x="225.45" y="252.35" width="16" height="13.3" fill="#eca11d" stroke="#9a6a10" stroke-width="0.9"/>
<text x="233.67" y="260.58" font-size="4.4" fill="#ffffff" text-anchor="middle" letter-spacing="0.45">GFI1</text>
<rect x="203.65" y="266.55" width="21.8" height="13.3" fill="#22e0ea" stroke="#12989e" stroke-width="0.9"/>
<text x="214.78" y="274.78" font-size="4.4" fill="#ffffff" text-anchor="middle" letter-spacing="0.45">AP1R</text>
<rect x="140.05" y="280.75" width="11.3" height="13.3" fill="#1c92e2" stroke="#0f609a" stroke-width="0.9"/>
<text x="145.7" y="288.98" font-size="4.4" fill="#ffffff" text-anchor="middle" textLength="9.6" lengthAdjust="spacingAndGlyphs">bZIP</text>
<rect x="117.65" y="294.95" width="22.8" height="13.3" fill="#1a7ee6" stroke="#0f549c" stroke-width="0.9"/>
<text x="129.28" y="303.18" font-size="4.4" fill="#ffffff" text-anchor="middle" letter-spacing="0.45">ETS</text>
<rect x="144.25" y="309.15" width="18" height="13.3" fill="#1662e0" stroke="#0c3e98" stroke-width="0.9"/>
<text x="153.47" y="317.38" font-size="4.4" fill="#ffffff" text-anchor="middle" letter-spacing="0.45">HOXA</text>
<rect x="165.75" y="309.15" width="18" height="13.3" fill="#1662e0" stroke="#0c3e98" stroke-width="0.9"/>
<text x="174.97" y="317.38" font-size="4.4" fill="#ffffff" text-anchor="middle" letter-spacing="0.45">HOXA</text>
<rect x="141.25" y="323.35" width="19.3" height="13.3" fill="#1a2ad2" stroke="#0c1890" stroke-width="0.9"/>
<text x="150.9" y="329.6" font-size="4.6" fill="#ffffff" text-anchor="middle" textLength="19.6" lengthAdjust="spacingAndGlyphs">HOXA-M</text>
<text x="150.9" y="335.15" font-size="4.6" fill="#ffffff" text-anchor="middle" textLength="19.6" lengthAdjust="spacingAndGlyphs">EIS-PBX</text>
<rect x="163.25" y="323.35" width="18.9" height="13.3" fill="#1a2ad2" stroke="#0c1890" stroke-width="0.9"/>
<text x="172.7" y="329.6" font-size="4.6" fill="#ffffff" text-anchor="middle" textLength="19.2" lengthAdjust="spacingAndGlyphs">HOXA-M</text>
<text x="172.7" y="335.15" font-size="4.6" fill="#ffffff" text-anchor="middle" textLength="19.2" lengthAdjust="spacingAndGlyphs">EIS-PBX</text>
<rect x="219.85" y="323.35" width="18.5" height="13.3" fill="#1a2ad2" stroke="#0c1890" stroke-width="0.9"/>
<text x="229.1" y="329.6" font-size="4.6" fill="#ffffff" text-anchor="middle" textLength="18.8" lengthAdjust="spacingAndGlyphs">HOXA-M</text>
<text x="229.1" y="335.15" font-size="4.6" fill="#ffffff" text-anchor="middle" textLength="18.8" lengthAdjust="spacingAndGlyphs">EIS-PBX</text>
<rect x="17.6" y="235.5" width="46.2" height="21.4" fill="#fff" stroke="#3c3c3c" stroke-width="1.6"/>
<text x="62.5" y="250.5" font-size="12.5" fill="#000" stroke="#000" stroke-width="0.4" text-anchor="end">Cebpa</text>
<rect x="14.5" y="233.4" width="237.2" height="110.8" fill="none" stroke="#2b2b2b" stroke-width="1.2"/>
<path d="M23 344.2V349.2M44.9 344.2V349.2M66.8 344.2V349.2M88.7 344.2V349.2M110.6 344.2V349.2M132.5 344.2V349.2M154.4 344.2V349.2M176.3 344.2V349.2M198.2 344.2V349.2M220.1 344.2V349.2M242 344.2V349.2" stroke="#111" stroke-width="1.2"/>
<text transform="translate(23.4 360.6) scale(1 0.96)" font-size="8.8" fill="#000" stroke="#000" stroke-width="0.15" text-anchor="middle">34835869</text>
<text transform="translate(89.1 360.6) scale(1 0.96)" font-size="8.8" fill="#000" stroke="#000" stroke-width="0.15" text-anchor="middle">34835929</text>
<text transform="translate(154.8 360.6) scale(1 0.96)" font-size="8.8" fill="#000" stroke="#000" stroke-width="0.15" text-anchor="middle">34835989</text>
<text transform="translate(220.5 360.6) scale(1 0.96)" font-size="8.8" fill="#000" stroke="#000" stroke-width="0.15" text-anchor="middle">34836049</text>
<path d="M282.03 233.4V344.2M287.5 233.4V344.2M292.98 233.4V344.2M298.45 233.4V344.2M303.93 233.4V344.2M309.4 233.4V344.2M314.88 233.4V344.2M320.35 233.4V344.2M325.83 233.4V344.2M331.3 233.4V344.2M336.78 233.4V344.2M342.25 233.4V344.2M347.73 233.4V344.2M353.2 233.4V344.2M358.68 233.4V344.2M364.15 233.4V344.2M369.63 233.4V344.2M375.1 233.4V344.2M380.58 233.4V344.2M386.05 233.4V344.2M391.53 233.4V344.2M397 233.4V344.2M402.48 233.4V344.2M407.95 233.4V344.2M413.43 233.4V344.2M418.9 233.4V344.2M424.38 233.4V344.2M429.85 233.4V344.2M435.33 233.4V344.2M440.8 233.4V344.2M446.28 233.4V344.2M451.75 233.4V344.2M457.23 233.4V344.2M462.7 233.4V344.2M468.18 233.4V344.2M473.65 233.4V344.2M479.13 233.4V344.2M484.6 233.4V344.2M490.08 233.4V344.2M495.55 233.4V344.2M501.03 233.4V344.2M506.5 233.4V344.2M511.98 233.4V344.2M278.6 237.3H515.4M278.6 248.5H515.4M278.6 259.7H515.4M278.6 270.9H515.4M278.6 282.1H515.4M278.6 293.3H515.4M278.6 304.5H515.4M278.6 315.7H515.4M278.6 326.9H515.4M278.6 338.1H515.4" stroke="#efeff2" stroke-width="0.7" stroke-dasharray="1 1.3" fill="none"/>
<line x1="315.7" y1="233.4" x2="315.7" y2="344.2" stroke="#c1a38a" stroke-width="1.25" stroke-dasharray="2.8 2.85"/>
<line x1="320.6" y1="233.4" x2="320.6" y2="344.2" stroke="#cdbd81" stroke-width="1.25" stroke-dasharray="2.8 2.85"/>
<line x1="330.5" y1="233.4" x2="330.5" y2="344.2" stroke="#d3cd86" stroke-width="1.25" stroke-dasharray="2.8 2.85"/>
<line x1="334.4" y1="233.4" x2="334.4" y2="344.2" stroke="#cdbd81" stroke-width="1.25" stroke-dasharray="2.8 2.85"/>
<line x1="339.2" y1="233.4" x2="339.2" y2="344.2" stroke="#c1a38a" stroke-width="1.25" stroke-dasharray="2.8 2.85"/>
<line x1="348.4" y1="233.4" x2="348.4" y2="344.2" stroke="#6a779c" stroke-width="1.25" stroke-dasharray="2.8 2.85"/>
<line x1="350.8" y1="233.4" x2="350.8" y2="344.2" stroke="#d3cd86" stroke-width="1.25" stroke-dasharray="2.8 2.85"/>
<line x1="390.1" y1="233.4" x2="390.1" y2="344.2" stroke="#b97381" stroke-width="1.25" stroke-dasharray="2.8 2.85"/>
<line x1="411.7" y1="233.4" x2="411.7" y2="344.2" stroke="#b97381" stroke-width="1.25" stroke-dasharray="2.8 2.85"/>
<line x1="413.8" y1="233.4" x2="413.8" y2="344.2" stroke="#60638f" stroke-width="1.25" stroke-dasharray="2.8 2.85"/>
<line x1="415.6" y1="233.4" x2="415.6" y2="344.2" stroke="#6a779c" stroke-width="1.25" stroke-dasharray="2.8 2.85"/>
<line x1="421.4" y1="233.4" x2="421.4" y2="344.2" stroke="#7cadc1" stroke-width="1.25" stroke-dasharray="2.8 2.85"/>
<line x1="431.3" y1="233.4" x2="431.3" y2="344.2" stroke="#60638f" stroke-width="1.25" stroke-dasharray="2.8 2.85"/>
<line x1="432.7" y1="233.4" x2="432.7" y2="344.2" stroke="#78b8c1" stroke-width="1.25" stroke-dasharray="2.8 2.85"/>
<line x1="435.5" y1="233.4" x2="435.5" y2="344.2" stroke="#7cadc1" stroke-width="1.25" stroke-dasharray="2.8 2.85"/>
<line x1="448.5" y1="233.4" x2="448.5" y2="344.2" stroke="#78b8c1" stroke-width="1.25" stroke-dasharray="2.8 2.85"/>
<line x1="458.3" y1="233.4" x2="458.3" y2="344.2" stroke="#7293b9" stroke-width="1.25" stroke-dasharray="2.8 2.85"/>
<rect x="390.55" y="237.75" width="20.7" height="10.3" fill="#e8141e" stroke="#9a0c12" stroke-width="0.9"/>
<text x="401.12" y="244.48" font-size="4.4" fill="#ffffff" text-anchor="middle" letter-spacing="0.45">STAT</text>
<rect x="316.15" y="248.95" width="22.6" height="10.3" fill="#ef8115" stroke="#9c560c" stroke-width="0.9"/>
<text x="327.68" y="255.68" font-size="4.4" fill="#ffffff" text-anchor="middle" letter-spacing="0.45">CREB</text>
<rect x="321.05" y="260.15" width="12.9" height="10.3" fill="#f2b51a" stroke="#9a760c" stroke-width="0.9"/>
<text x="327.73" y="266.88" font-size="4.4" fill="#ffffff" text-anchor="middle" letter-spacing="0.45">MYC</text>
<rect x="330.75" y="271.35" width="20.2" height="10.3" fill="#f8e61e" stroke="#857808" stroke-width="0.9"/>
<text x="341.08" y="278.08" font-size="4.4" fill="#fff7b0" text-anchor="middle" letter-spacing="0.45">GATA1</text>
<rect x="414.85" y="282.55" width="16.5" height="10.3" fill="#1a2ad2" stroke="#0c1890" stroke-width="0.9"/>
<text x="423.1" y="287.3" font-size="4.6" fill="#ffffff" text-anchor="middle" textLength="16.8" lengthAdjust="spacingAndGlyphs">HOXA-M</text>
<text x="423.1" y="292.85" font-size="4.6" fill="#ffffff" text-anchor="middle" textLength="16.8" lengthAdjust="spacingAndGlyphs">EIS-PBX</text>
<rect x="432.95" y="293.75" width="14.7" height="10.3" fill="#24d2e0" stroke="#128e98" stroke-width="0.9"/>
<text x="440.53" y="300.48" font-size="4.4" fill="#ffffff" text-anchor="middle" letter-spacing="0.45">AML</text>
<rect x="421.85" y="304.95" width="13.2" height="10.3" fill="#1db4ea" stroke="#0f78a0" stroke-width="0.9"/>
<text x="428.45" y="311.68" font-size="4.4" fill="#ffffff" text-anchor="middle" textLength="11.5" lengthAdjust="spacingAndGlyphs">MYBL</text>
<rect x="435.95" y="316.15" width="22.1" height="10.3" fill="#1a7ee6" stroke="#0f549c" stroke-width="0.9"/>
<text x="447.23" y="322.88" font-size="4.4" fill="#ffffff" text-anchor="middle" letter-spacing="0.45">ETS</text>
<rect x="330.75" y="327.35" width="17.8" height="10.3" fill="#1662e0" stroke="#0c3e98" stroke-width="0.9"/>
<text x="339.88" y="334.08" font-size="4.4" fill="#ffffff" text-anchor="middle" letter-spacing="0.45">HOXA</text>
<rect x="465.4" y="235" width="47.3" height="21.9" fill="#fff" stroke="#3c3c3c" stroke-width="1.6"/>
<text x="510.5" y="250.8" font-size="12.45" fill="#000" stroke="#000" stroke-width="0.4" text-anchor="end">Hoxb5</text>
<rect x="278.6" y="233.4" width="236.8" height="110.8" fill="none" stroke="#2b2b2b" stroke-width="1.2"/>
<path d="M287.5 344.2V349.2M309.4 344.2V349.2M331.3 344.2V349.2M353.2 344.2V349.2M375.1 344.2V349.2M397 344.2V349.2M418.9 344.2V349.2M440.8 344.2V349.2M462.7 344.2V349.2M484.6 344.2V349.2M506.5 344.2V349.2" stroke="#111" stroke-width="1.2"/>
<text transform="translate(287.9 360.6) scale(1 0.96)" font-size="8.8" fill="#000" stroke="#000" stroke-width="0.15" text-anchor="middle">96123061</text>
<text transform="translate(353.6 360.6) scale(1 0.96)" font-size="8.8" fill="#000" stroke="#000" stroke-width="0.15" text-anchor="middle">96123121</text>
<text transform="translate(419.3 360.6) scale(1 0.96)" font-size="8.8" fill="#000" stroke="#000" stroke-width="0.15" text-anchor="middle">96123181</text>
<text transform="translate(485 360.6) scale(1 0.96)" font-size="8.8" fill="#000" stroke="#000" stroke-width="0.15" text-anchor="middle">96123241</text>
<path d="M17.33 365.5V476.2M22.8 365.5V476.2M28.28 365.5V476.2M33.75 365.5V476.2M39.23 365.5V476.2M44.7 365.5V476.2M50.18 365.5V476.2M55.65 365.5V476.2M61.13 365.5V476.2M66.6 365.5V476.2M72.08 365.5V476.2M77.55 365.5V476.2M83.02 365.5V476.2M88.5 365.5V476.2M93.97 365.5V476.2M99.45 365.5V476.2M104.92 365.5V476.2M110.4 365.5V476.2M115.87 365.5V476.2M121.35 365.5V476.2M126.82 365.5V476.2M132.3 365.5V476.2M137.77 365.5V476.2M143.25 365.5V476.2M148.72 365.5V476.2M154.2 365.5V476.2M159.67 365.5V476.2M165.15 365.5V476.2M170.62 365.5V476.2M176.1 365.5V476.2M181.57 365.5V476.2M187.05 365.5V476.2M192.52 365.5V476.2M198 365.5V476.2M203.47 365.5V476.2M208.95 365.5V476.2M214.42 365.5V476.2M219.9 365.5V476.2M225.37 365.5V476.2M230.85 365.5V476.2M236.32 365.5V476.2M241.8 365.5V476.2M247.27 365.5V476.2M14.5 369.2H251.3M14.5 378.4H251.3M14.5 387.6H251.3M14.5 396.8H251.3M14.5 406H251.3M14.5 415.2H251.3M14.5 424.4H251.3M14.5 433.6H251.3M14.5 442.8H251.3M14.5 452H251.3M14.5 461.2H251.3M14.5 470.4H251.3" stroke="#efeff2" stroke-width="0.7" stroke-dasharray="1 1.3" fill="none"/>
<line x1="42.7" y1="365.5" x2="42.7" y2="476.2" stroke="#60638f" stroke-width="1.25" stroke-dasharray="2.8 2.85"/>
<line x1="51.2" y1="365.5" x2="51.2" y2="476.2" stroke="#cdbd81" stroke-width="1.25" stroke-dasharray="2.8 2.85"/>
<line x1="56" y1="365.5" x2="56" y2="476.2" stroke="#7293b9" stroke-width="1.25" stroke-dasharray="2.8 2.85"/>
<line x1="61" y1="365.5" x2="61" y2="476.2" stroke="#60638f" stroke-width="1.25" stroke-dasharray="2.8 2.85"/>
<line x1="66.2" y1="365.5" x2="66.2" y2="476.2" stroke="#cdbd81" stroke-width="1.25" stroke-dasharray="2.8 2.85"/>
<line x1="79.7" y1="365.5" x2="79.7" y2="476.2" stroke="#60638f" stroke-width="1.25" stroke-dasharray="2.8 2.85"/>
<line x1="101" y1="365.5" x2="101" y2="476.2" stroke="#b97381" stroke-width="1.25" stroke-dasharray="2.8 2.85"/>
<line x1="114.8" y1="365.5" x2="114.8" y2="476.2" stroke="#d3cd86" stroke-width="1.25" stroke-dasharray="2.8 2.85"/>
<line x1="117.3" y1="365.5" x2="117.3" y2="476.2" stroke="#60638f" stroke-width="1.25" stroke-dasharray="2.8 2.85"/>
<line x1="122.8" y1="365.5" x2="122.8" y2="476.2" stroke="#d7c481" stroke-width="1.25" stroke-dasharray="2.8 2.85"/>
<line x1="133.5" y1="365.5" x2="133.5" y2="476.2" stroke="#6a779c" stroke-width="1.25" stroke-dasharray="2.8 2.85"/>
<line x1="135.9" y1="365.5" x2="135.9" y2="476.2" stroke="#d3cd86" stroke-width="1.25" stroke-dasharray="2.8 2.85"/>
<line x1="139.8" y1="365.5" x2="139.8" y2="476.2" stroke="#d7c481" stroke-width="1.25" stroke-dasharray="2.8 2.85"/>
<line x1="172.2" y1="365.5" x2="172.2" y2="476.2" stroke="#606791" stroke-width="1.25" stroke-dasharray="2.8 2.85"/>
<line x1="181.2" y1="365.5" x2="181.2" y2="476.2" stroke="#c1a38a" stroke-width="1.25" stroke-dasharray="2.8 2.85"/>
<line x1="182.6" y1="365.5" x2="182.6" y2="476.2" stroke="#7e9cb9" stroke-width="1.25" stroke-dasharray="2.8 2.85"/>
<line x1="184.8" y1="365.5" x2="184.8" y2="476.2" stroke="#5a5c8d" stroke-width="1.25" stroke-dasharray="2.8 2.85"/>
<line x1="190.9" y1="365.5" x2="190.9" y2="476.2" stroke="#606791" stroke-width="1.25" stroke-dasharray="2.8 2.85"/>
<line x1="200.1" y1="365.5" x2="200.1" y2="476.2" stroke="#5a5c8d" stroke-width="1.25" stroke-dasharray="2.8 2.85"/>
<line x1="202.5" y1="365.5" x2="202.5" y2="476.2" stroke="#7e9cb9" stroke-width="1.25" stroke-dasharray="2.8 2.85"/>
<line x1="205" y1="365.5" x2="205" y2="476.2" stroke="#c1a38a" stroke-width="1.25" stroke-dasharray="2.8 2.85"/>
<rect x="80.15" y="369.65" width="20.9" height="8.3" fill="#e8141e" stroke="#9a0c12" stroke-width="0.9"/>
<text x="90.82" y="375.38" font-size="4.4" fill="#ffffff" text-anchor="middle" letter-spacing="0.45">STAT</text>
<rect x="181.65" y="378.85" width="22.9" height="8.3" fill="#ef8115" stroke="#9c560c" stroke-width="0.9"/>
<text x="193.32" y="384.58" font-size="4.4" fill="#ffffff" text-anchor="middle" letter-spacing="0.45">CREB</text>
<rect x="123.25" y="388.05" width="16.1" height="8.3" fill="#eca11d" stroke="#9a6a10" stroke-width="0.9"/>
<text x="131.53" y="393.78" font-size="4.4" fill="#ffffff" text-anchor="middle" letter-spacing="0.45">GFI1</text>
<rect x="51.65" y="397.25" width="14.1" height="8.3" fill="#f2b51a" stroke="#9a760c" stroke-width="0.9"/>
<text x="58.93" y="402.98" font-size="4.4" fill="#ffffff" text-anchor="middle" letter-spacing="0.45">MYC</text>
<rect x="115.75" y="406.45" width="19.7" height="8.3" fill="#f8e61e" stroke="#857808" stroke-width="0.9"/>
<text x="125.82" y="412.18" font-size="4.4" fill="#fff7b0" text-anchor="middle" letter-spacing="0.45">GATA1</text>
<rect x="183.65" y="415.65" width="18.4" height="8.3" fill="#1c92e2" stroke="#0f609a" stroke-width="0.9"/>
<text x="193.07" y="421.38" font-size="4.4" fill="#ffffff" text-anchor="middle" letter-spacing="0.45">bZIP</text>
<rect x="56.45" y="424.85" width="23.1" height="8.3" fill="#1a7ee6" stroke="#0f549c" stroke-width="0.9"/>
<text x="68.22" y="430.58" font-size="4.4" fill="#ffffff" text-anchor="middle" letter-spacing="0.45">ETS</text>
<rect x="115.75" y="434.05" width="18" height="8.3" fill="#1662e0" stroke="#0c3e98" stroke-width="0.9"/>
<text x="124.97" y="439.78" font-size="4.4" fill="#ffffff" text-anchor="middle" letter-spacing="0.45">HOXA</text>
<rect x="172.65" y="443.25" width="18.3" height="8.3" fill="#1a3cd2" stroke="#0c2690" stroke-width="0.9"/>
<text x="182.03" y="448.98" font-size="4.4" fill="#ffffff" text-anchor="middle" letter-spacing="0.45">TALE</text>
<rect x="43.15" y="452.45" width="17.8" height="8.3" fill="#1a2ad2" stroke="#0c1890" stroke-width="0.9"/>
<text x="52.05" y="456.2" font-size="4" fill="#ffffff" text-anchor="middle" textLength="18.1" lengthAdjust="spacingAndGlyphs">HOXA-M</text>
<text x="52.05" y="461.08" font-size="4" fill="#ffffff" text-anchor="middle" textLength="18.1" lengthAdjust="spacingAndGlyphs">EIS-PBX</text>
<rect x="117.75" y="452.45" width="17.7" height="8.3" fill="#1a2ad2" stroke="#0c1890" stroke-width="0.9"/>
<text x="126.6" y="456.2" font-size="4" fill="#ffffff" text-anchor="middle" textLength="18" lengthAdjust="spacingAndGlyphs">HOXA-M</text>
<text x="126.6" y="461.08" font-size="4" fill="#ffffff" text-anchor="middle" textLength="18" lengthAdjust="spacingAndGlyphs">EIS-PBX</text>
<rect x="184.05" y="461.65" width="17.3" height="8.3" fill="#1414cc" stroke="#08088c" stroke-width="0.9"/>
<text x="192.92" y="467.38" font-size="4.4" fill="#ffffff" text-anchor="middle" letter-spacing="0.45">CEBP</text>
<rect x="17.2" y="367.2" width="44.9" height="21.9" fill="#fff" stroke="#3c3c3c" stroke-width="1.6"/>
<text x="59.7" y="382.8" font-size="12.0" fill="#000" stroke="#000" stroke-width="0.4" text-anchor="end">Foxp1</text>
<rect x="14.5" y="365.5" width="236.8" height="110.7" fill="none" stroke="#2b2b2b" stroke-width="1.2"/>
<path d="M22.8 476.2V481.2M44.7 476.2V481.2M66.6 476.2V481.2M88.5 476.2V481.2M110.4 476.2V481.2M132.3 476.2V481.2M154.2 476.2V481.2M176.1 476.2V481.2M198 476.2V481.2M219.9 476.2V481.2M241.8 476.2V481.2" stroke="#111" stroke-width="1.2"/>
<text transform="translate(23.2 493) scale(1 0.96)" font-size="8.8" fill="#000" stroke="#000" stroke-width="0.15" text-anchor="middle">99154447</text>
<text transform="translate(88.9 493) scale(1 0.96)" font-size="8.8" fill="#000" stroke="#000" stroke-width="0.15" text-anchor="middle">99154507</text>
<text transform="translate(154.6 493) scale(1 0.96)" font-size="8.8" fill="#000" stroke="#000" stroke-width="0.15" text-anchor="middle">99154567</text>
<text transform="translate(220.3 493) scale(1 0.96)" font-size="8.8" fill="#000" stroke="#000" stroke-width="0.15" text-anchor="middle">99154627</text>
<path d="M282.53 365.5V476M288 365.5V476M293.48 365.5V476M298.95 365.5V476M304.43 365.5V476M309.9 365.5V476M315.38 365.5V476M320.85 365.5V476M326.33 365.5V476M331.8 365.5V476M337.28 365.5V476M342.75 365.5V476M348.23 365.5V476M353.7 365.5V476M359.18 365.5V476M364.65 365.5V476M370.13 365.5V476M375.6 365.5V476M381.08 365.5V476M386.55 365.5V476M392.03 365.5V476M397.5 365.5V476M402.98 365.5V476M408.45 365.5V476M413.93 365.5V476M419.4 365.5V476M424.88 365.5V476M430.35 365.5V476M435.83 365.5V476M441.3 365.5V476M446.78 365.5V476M452.25 365.5V476M457.73 365.5V476M463.2 365.5V476M468.68 365.5V476M474.15 365.5V476M479.63 365.5V476M485.1 365.5V476M490.58 365.5V476M496.05 365.5V476M501.53 365.5V476M507 365.5V476M512.48 365.5V476M278.6 369.7H515.2M278.6 383.9H515.2M278.6 398.1H515.2M278.6 412.3H515.2M278.6 426.5H515.2M278.6 440.7H515.2M278.6 454.9H515.2M278.6 469.1H515.2" stroke="#efeff2" stroke-width="0.7" stroke-dasharray="1 1.3" fill="none"/>
<line x1="290.8" y1="365.5" x2="290.8" y2="476" stroke="#60638f" stroke-width="1.25" stroke-dasharray="2.8 2.85"/>
<line x1="293.2" y1="365.5" x2="293.2" y2="476" stroke="#6a779c" stroke-width="1.25" stroke-dasharray="2.8 2.85"/>
<line x1="307" y1="365.5" x2="307" y2="476" stroke="#60638f" stroke-width="1.25" stroke-dasharray="2.8 2.85"/>
<line x1="312.8" y1="365.5" x2="312.8" y2="476" stroke="#6a779c" stroke-width="1.25" stroke-dasharray="2.8 2.85"/>
<line x1="315" y1="365.5" x2="315" y2="476" stroke="#6a779c" stroke-width="1.25" stroke-dasharray="2.8 2.85"/>
<line x1="321" y1="365.5" x2="321" y2="476" stroke="#7e9cb9" stroke-width="1.25" stroke-dasharray="2.8 2.85"/>
<line x1="323.5" y1="365.5" x2="323.5" y2="476" stroke="#5a5c8d" stroke-width="1.25" stroke-dasharray="2.8 2.85"/>
<line x1="340.2" y1="365.5" x2="340.2" y2="476" stroke="#7e9cb9" stroke-width="1.25" stroke-dasharray="2.8 2.85"/>
<line x1="346.8" y1="365.5" x2="346.8" y2="476" stroke="#5a5c8d" stroke-width="1.25" stroke-dasharray="2.8 2.85"/>
<line x1="352.1" y1="365.5" x2="352.1" y2="476" stroke="#b97381" stroke-width="1.25" stroke-dasharray="2.8 2.85"/>
<line x1="363" y1="365.5" x2="363" y2="476" stroke="#5a5c8d" stroke-width="1.25" stroke-dasharray="2.8 2.85"/>
<line x1="369.8" y1="365.5" x2="369.8" y2="476" stroke="#6a779c" stroke-width="1.25" stroke-dasharray="2.8 2.85"/>
<line x1="371.5" y1="365.5" x2="371.5" y2="476" stroke="#60638f" stroke-width="1.25" stroke-dasharray="2.8 2.85"/>
<line x1="372.7" y1="365.5" x2="372.7" y2="476" stroke="#b97381" stroke-width="1.25" stroke-dasharray="2.8 2.85"/>
<line x1="377.6" y1="365.5" x2="377.6" y2="476" stroke="#d7c481" stroke-width="1.25" stroke-dasharray="2.8 2.85"/>
<line x1="388.5" y1="365.5" x2="388.5" y2="476" stroke="#6a779c" stroke-width="1.25" stroke-dasharray="2.8 2.85"/>
<line x1="390.9" y1="365.5" x2="390.9" y2="476" stroke="#60638f" stroke-width="1.25" stroke-dasharray="2.8 2.85"/>
<line x1="393.8" y1="365.5" x2="393.8" y2="476" stroke="#d7c481" stroke-width="1.25" stroke-dasharray="2.8 2.85"/>
<line x1="404.4" y1="365.5" x2="404.4" y2="476" stroke="#60638f" stroke-width="1.25" stroke-dasharray="2.8 2.85"/>
<line x1="421.8" y1="365.5" x2="421.8" y2="476" stroke="#60638f" stroke-width="1.25" stroke-dasharray="2.8 2.85"/>
<line x1="432.9" y1="365.5" x2="432.9" y2="476" stroke="#d7c481" stroke-width="1.25" stroke-dasharray="2.8 2.85"/>
<line x1="441.2" y1="365.5" x2="441.2" y2="476" stroke="#b97381" stroke-width="1.25" stroke-dasharray="2.8 2.85"/>
<line x1="446.5" y1="365.5" x2="446.5" y2="476" stroke="#d3cd86" stroke-width="1.25" stroke-dasharray="2.8 2.85"/>
<line x1="449.7" y1="365.5" x2="449.7" y2="476" stroke="#d7c481" stroke-width="1.25" stroke-dasharray="2.8 2.85"/>
<line x1="461.8" y1="365.5" x2="461.8" y2="476" stroke="#b97381" stroke-width="1.25" stroke-dasharray="2.8 2.85"/>
<line x1="465.3" y1="365.5" x2="465.3" y2="476" stroke="#6a779c" stroke-width="1.25" stroke-dasharray="2.8 2.85"/>
<line x1="467.4" y1="365.5" x2="467.4" y2="476" stroke="#d3cd86" stroke-width="1.25" stroke-dasharray="2.8 2.85"/>
<rect x="352.55" y="370.15" width="19.7" height="13.3" fill="#e8141e" stroke="#9a0c12" stroke-width="0.9"/>
<text x="362.62" y="378.38" font-size="4.4" fill="#ffffff" text-anchor="middle" letter-spacing="0.45">STAT</text>
<rect x="441.65" y="370.15" width="19.7" height="13.3" fill="#e8141e" stroke="#9a0c12" stroke-width="0.9"/>
<text x="451.73" y="378.38" font-size="4.4" fill="#ffffff" text-anchor="middle" letter-spacing="0.45">STAT</text>
<rect x="378.05" y="384.35" width="15.3" height="13.3" fill="#eca11d" stroke="#9a6a10" stroke-width="0.9"/>
<text x="385.93" y="392.58" font-size="4.4" fill="#ffffff" text-anchor="middle" letter-spacing="0.45">GFI1</text>
<rect x="433.95" y="384.35" width="15.3" height="13.3" fill="#eca11d" stroke="#9a6a10" stroke-width="0.9"/>
<text x="441.83" y="392.58" font-size="4.4" fill="#ffffff" text-anchor="middle" letter-spacing="0.45">GFI1</text>
<rect x="446.95" y="398.55" width="20" height="13.3" fill="#f8e61e" stroke="#857808" stroke-width="0.9"/>
<text x="457.18" y="406.78" font-size="4.4" fill="#fff7b0" text-anchor="middle" letter-spacing="0.45">GATA1</text>
<rect x="321.45" y="412.75" width="18.6" height="13.3" fill="#1c92e2" stroke="#0f609a" stroke-width="0.9"/>
<text x="330.98" y="420.98" font-size="4.4" fill="#ffffff" text-anchor="middle" letter-spacing="0.45">bZIP</text>
<rect x="294.35" y="426.95" width="18.3" height="13.3" fill="#1662e0" stroke="#0c3e98" stroke-width="0.9"/>
<text x="303.73" y="435.18" font-size="4.4" fill="#ffffff" text-anchor="middle" letter-spacing="0.45">HOXA</text>
<rect x="370.75" y="426.95" width="17.3" height="13.3" fill="#1662e0" stroke="#0c3e98" stroke-width="0.9"/>
<text x="379.62" y="435.18" font-size="4.4" fill="#ffffff" text-anchor="middle" letter-spacing="0.45">HOXA</text>
<rect x="446.95" y="426.95" width="18.1" height="13.3" fill="#1662e0" stroke="#0c3e98" stroke-width="0.9"/>
<text x="456.23" y="435.18" font-size="4.4" fill="#ffffff" text-anchor="middle" letter-spacing="0.45">HOXA</text>
<rect x="291.25" y="441.15" width="16" height="13.3" fill="#1a2ad2" stroke="#0c1890" stroke-width="0.9"/>
<text x="299.25" y="447.4" font-size="4.6" fill="#ffffff" text-anchor="middle" textLength="16.3" lengthAdjust="spacingAndGlyphs">HOXA-M</text>
<text x="299.25" y="452.95" font-size="4.6" fill="#ffffff" text-anchor="middle" textLength="16.3" lengthAdjust="spacingAndGlyphs">EIS-PBX</text>
<rect x="371.95" y="441.15" width="18.5" height="13.3" fill="#1a2ad2" stroke="#0c1890" stroke-width="0.9"/>
<text x="381.2" y="447.4" font-size="4.6" fill="#ffffff" text-anchor="middle" textLength="18.8" lengthAdjust="spacingAndGlyphs">HOXA-M</text>
<text x="381.2" y="452.95" font-size="4.6" fill="#ffffff" text-anchor="middle" textLength="18.8" lengthAdjust="spacingAndGlyphs">EIS-PBX</text>
<rect x="404.85" y="441.15" width="16.5" height="13.3" fill="#1a2ad2" stroke="#0c1890" stroke-width="0.9"/>
<text x="413.1" y="447.4" font-size="4.6" fill="#ffffff" text-anchor="middle" textLength="16.8" lengthAdjust="spacingAndGlyphs">HOXA-M</text>
<text x="413.1" y="452.95" font-size="4.6" fill="#ffffff" text-anchor="middle" textLength="16.8" lengthAdjust="spacingAndGlyphs">EIS-PBX</text>
<rect x="323.95" y="455.35" width="16.1" height="13.3" fill="#1414cc" stroke="#08088c" stroke-width="0.9"/>
<text x="332.23" y="463.58" font-size="4.4" fill="#ffffff" text-anchor="middle" letter-spacing="0.45">CEBP</text>
<rect x="347.25" y="455.35" width="15.3" height="13.3" fill="#1414cc" stroke="#08088c" stroke-width="0.9"/>
<text x="355.12" y="463.58" font-size="4.4" fill="#ffffff" text-anchor="middle" letter-spacing="0.45">CEBP</text>
<rect x="281.8" y="367.2" width="44.9" height="21.9" fill="#fff" stroke="#3c3c3c" stroke-width="1.6"/>
<text x="324.5" y="382.8" font-size="12.0" fill="#000" stroke="#000" stroke-width="0.4" text-anchor="end">Foxp1</text>
<rect x="278.6" y="365.5" width="236.6" height="110.5" fill="none" stroke="#2b2b2b" stroke-width="1.2"/>
<path d="M288 476V481M309.9 476V481M331.8 476V481M353.7 476V481M375.6 476V481M397.5 476V481M419.4 476V481M441.3 476V481M463.2 476V481M485.1 476V481M507 476V481" stroke="#111" stroke-width="1.2"/>
<text transform="translate(288.4 493) scale(1 0.96)" font-size="8.8" fill="#000" stroke="#000" stroke-width="0.15" text-anchor="middle">99298516</text>
<text transform="translate(354.1 493) scale(1 0.96)" font-size="8.8" fill="#000" stroke="#000" stroke-width="0.15" text-anchor="middle">99298576</text>
<text transform="translate(419.8 493) scale(1 0.96)" font-size="8.8" fill="#000" stroke="#000" stroke-width="0.15" text-anchor="middle">99298636</text>
<text transform="translate(485.5 493) scale(1 0.96)" font-size="8.8" fill="#000" stroke="#000" stroke-width="0.15" text-anchor="middle">99298696</text>
</g>
</svg>
</body></html>
